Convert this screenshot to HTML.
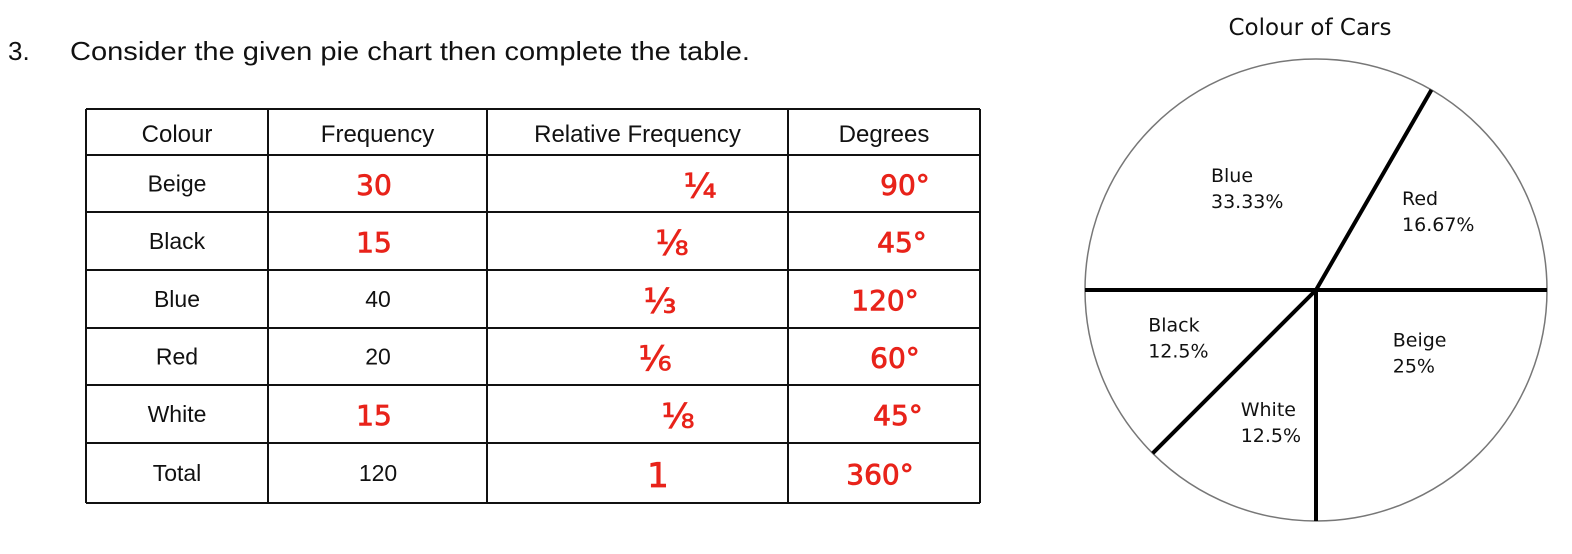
<!DOCTYPE html>
<html><head><meta charset="utf-8"><style>
html,body{margin:0;padding:0;background:#fff;}
svg{display:block;}
.q{font-family:"Liberation Sans",sans-serif;font-size:26px;fill:#111;}
.h{font-family:"Liberation Sans",sans-serif;font-size:24px;fill:#111;text-anchor:middle;}
.c{font-family:"Liberation Sans",sans-serif;font-size:23px;fill:#111;text-anchor:middle;}
.r{font-family:"DejaVu Sans",sans-serif;font-size:28px;fill:#e8231a;stroke:#e8231a;stroke-width:0.8;text-anchor:middle;}
.p{font-family:"DejaVu Sans",sans-serif;font-size:19px;fill:#111;}
</style></head><body>
<svg id="s" width="1572" height="554" viewBox="0 0 1572 554" xmlns="http://www.w3.org/2000/svg">
<text class="q" x="8" y="60">3.</text>
<text class="q" x="70" y="60" textLength="680" lengthAdjust="spacingAndGlyphs">Consider the given pie chart then complete the table.</text>
<g id="table"></g>
<text x="1310" y="35" text-anchor="middle" style="font-family:'DejaVu Sans',sans-serif;font-size:23px;fill:#111">Colour of Cars</text>
<g id="pie"></g>
</svg>
<script>
const colours = ["Beige","Black","Blue","Red","White","Total"];
const freqs = ["30","15","40","20","15","120"];
const freqHand = [true,true,false,false,true,false];
const relFreqs = ["¼","⅛","⅓","⅙","⅛","1"];
const degrees = ["90°","45°","120°","60°","45°","360°"];
const pieLabels = ["Red","Blue","Black","White","Beige"];
const pieValues = [16.67,33.33,12.5,12.5,25];
const piePctText = ["16.67%","33.33%","12.5%","12.5%","25%"];

const NS="http://www.w3.org/2000/svg";
function mk(tag,attrs,parent,txt){const e=document.createElementNS(NS,tag);for(const k in attrs)e.setAttribute(k,attrs[k]);if(txt!==undefined)e.textContent=txt;parent.appendChild(e);return e;}
const T=document.getElementById('table');
const xs=[86,268,487,788,980];
const ys=[109,155,212,270,328,385,443,503];
for(const x of xs){const l=mk('line',{x1:x,y1:109,x2:x,y2:503,stroke:'#111','stroke-width':2},T);

}
for(const y of ys){const l=mk('line',{x1:86,y1:y,x2:980,y2:y,stroke:'#111','stroke-width':2},T);

}
const heads=["Colour","Frequency","Relative Frequency","Degrees"];
for(let i=0;i<4;i++){const t=mk('text',{class:'h',x:(xs[i]+xs[i+1])/2,y:142},T,heads[i]);

}
const relX=[700,672,660,655,678,658];
const degX=[905,902,885,895,898,880];
for(let r=0;r<colours.length;r++){
  const cy=(ys[r+1]+ys[r+2])/2+8;
  let t=mk('text',{class:'c',x:177,y:cy},T,colours[r]);
  
  
  t=mk('text',{class:freqHand[r]?'r':'c',x:freqHand[r]?374:378,y:cy+(freqHand[r]?3:0)},T,freqs[r]);
  
  
  t=mk('text',{class:'r',x:relX[r],y:cy+6,style:'font-size:34px'},T,relFreqs[r]);
  
  
  t=mk('text',{class:'r',x:degX[r],y:cy+3},T,degrees[r]);
  
  
}
const P=document.getElementById('pie');
const cx=1316,cy=290,R=231;
const circ=mk('circle',{cx:cx,cy:cy,r:R,fill:'#fff',stroke:'#777','stroke-width':1.5},P);


const total=pieValues.reduce((a,b)=>a+b,0);
const lblDx=[0,-8,-14,6,12];
const lblDy=[-12,14,-4,8,-32];
let ang=0;
for(let i=0;i<pieValues.length;i++){
  const a=ang*Math.PI/180;
  const ln=mk('line',{x1:cx,y1:cy,x2:cx+R*Math.cos(a),y2:cy-R*Math.sin(a),stroke:'#000','stroke-width':4},P);
  
  
  const sweep=pieValues[i]/total*360;
  const mid=(ang+sweep/2)*Math.PI/180;
  const rr=R*0.58;
  const lx=cx+rr*Math.cos(mid)-30+lblDx[i], ly=cy-rr*Math.sin(mid)+lblDy[i];
  const g=mk('g',{},P);
  
  
  mk('text',{class:'p',x:lx,y:ly-6},g,pieLabels[i]);
  mk('text',{class:'p',x:lx,y:ly+20},g,piePctText[i]);
  ang+=sweep;
}
</script>
</body></html>
